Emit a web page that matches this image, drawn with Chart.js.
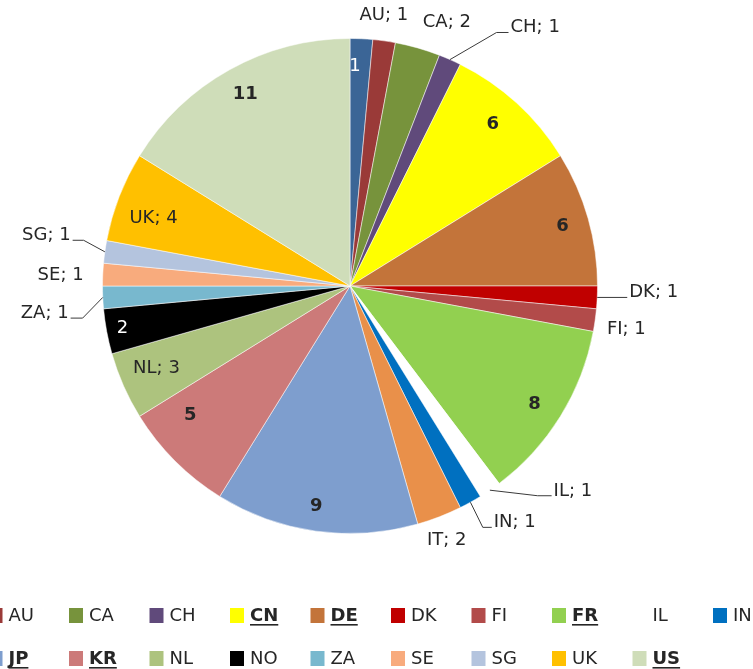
<!DOCTYPE html>
<html>
<head>
<meta charset="utf-8">
<title>Countries</title>
<script src="https://cdn.jsdelivr.net/npm/chart.js@4.4.1/dist/chart.umd.min.js"></script>
<style>
  html, body { margin: 0; padding: 0; background: #fff; overflow: hidden; }
  canvas { display: block; }
</style>
</head>
<body>
<canvas id="country-pie" width="753" height="669"></canvas>
<script>
// first slice has no name in the legend
const countries = ["", "AU", "CA", "CH", "CN", "DE", "DK", "FI", "FR", "IL", "IN",
  "IT", "JP", "KR", "NL", "NO", "ZA", "SE", "SG", "UK", "US"];
const counts = [1, 1, 2, 1, 6, 6, 1, 1, 8, 1, 1, 2, 9, 5, 3, 2, 1, 1, 1, 4, 11];
const sliceColors = ["#3b6596", "#9a3a38", "#77933c", "#604a7b", "#ffff00", "#c3743a",
  "#c00000", "#b24b4a", "#92d050", "#ffffff", "#0070c0", "#e9904a", "#7e9ece",
  "#cc7a79", "#adc37e", "#000000", "#78b8ce", "#f8ab7d", "#b4c4de", "#ffc000", "#cfddb9"];

const boldCountries = ["CN", "DE", "FR", "JP", "KR", "US"];
const valueOnly = ["", "CN", "DE", "FR", "JP", "KR", "NO", "US"];
const whiteLabels = ["", "NO"];

// r = share of radius, da = degrees clockwise from the slice middle
const labelPlacement = {
  "": { r: 0.887, da: -1.35 },
  AU: { r: 1.101, da: -0.8 },
  CA: { r: 1.134, da: 4.3 },
  CH: { leader: { r: 1.183, da: 6.2, arm: 12 } },
  CN: { r: 0.871, da: -0.9 },
  DE: { r: 0.892, da: 0.15 },
  DK: { leader: { r: 1.0, da: 0, arm: 30 } },
  FI: { r: 1.13, da: 0.9 },
  FR: { r: 0.887, da: 1 },
  IL: { leader: { r: 1.137, da: -7.4, arm: 14 } },
  IN: { leader: { r: 1.113, da: 0.3, arm: 9 } },
  IT: { r: 1.1, da: 0.35 },
  JP: { r: 0.9, da: 0.8 },
  KR: { r: 0.829, da: 6.1 },
  NL: { r: 0.849, da: 0.9 },
  NO: { r: 0.935, da: 0.15 },
  ZA: { leader: { r: 1.088, da: -4.2, arm: -12 } },
  SE: { r: 1.17, da: -0.5 },
  SG: { leader: { r: 1.092, da: 1.8, arm: -11 } },
  UK: { r: 0.84, da: -2.1 },
  US: { r: 0.882, da: 0.45 },
};

const legendLayout = { left: -11.5, colWidth: 80.5, columns: 11, rowTop: 615, rowGap: 43, box: 14 };
const FONT = '"DejaVu Sans", sans-serif';

function polar(arc, r, deg) {
  const a = (arc.startAngle + arc.endAngle) / 2 + deg * Math.PI / 180;
  return {
    x: arc.x + Math.cos(a) * arc.outerRadius * r,
    y: arc.y + Math.sin(a) * arc.outerRadius * r,
  };
}

const sliceLabels = {
  id: "sliceLabels",
  afterDatasetsDraw(chart) {
    const ctx = chart.ctx;
    const meta = chart.getDatasetMeta(0);
    ctx.save();
    meta.data.forEach((el, i) => {
      const name = countries[i];
      const place = labelPlacement[name];
      if (!place) return;
      const arc = el.getProps(["x", "y", "startAngle", "endAngle", "outerRadius"], true);
      const bold = boldCountries.includes(name);
      const text = valueOnly.includes(name) ? String(counts[i]) : name + "; " + counts[i];
      ctx.font = (bold ? "bold " : "") + "18px " + FONT;
      ctx.fillStyle = whiteLabels.includes(name) ? "#ffffff" : "#262626";

      if (place.leader) {
        const start = polar(arc, 1, 0);
        const elbow = polar(arc, place.leader.r, place.leader.da);
        const endX = elbow.x + place.leader.arm;
        ctx.strokeStyle = "#3a3a3a";
        ctx.lineWidth = 1;
        ctx.beginPath();
        ctx.moveTo(start.x, start.y);
        ctx.lineTo(elbow.x, elbow.y);
        ctx.lineTo(endX, elbow.y);
        ctx.stroke();
        const right = place.leader.arm > 0;
        ctx.textAlign = right ? "left" : "right";
        ctx.textBaseline = "alphabetic";
        ctx.fillText(text, endX + (right ? 2 : -2), elbow.y);
      } else {
        const p = polar(arc, place.r, place.da);
        ctx.textAlign = "center";
        ctx.textBaseline = "middle";
        ctx.fillText(text, p.x, p.y);
      }
    });
    ctx.restore();
  },
};

const gridLegend = {
  id: "gridLegend",
  afterDraw(chart) {
    const ctx = chart.ctx;
    const L = legendLayout;
    ctx.save();
    countries.forEach((name, i) => {
      if (name === "") return;
      const n = i - 1;
      const col = n % L.columns;
      const row = Math.floor(n / L.columns);
      const x = L.left + col * L.colWidth;
      const y = L.rowTop + row * L.rowGap;
      ctx.fillStyle = sliceColors[i];
      ctx.fillRect(x, y - L.box / 2, L.box, L.box + 1);
      const bold = boldCountries.includes(name);
      ctx.font = (bold ? "bold " : "") + "18px " + FONT;
      ctx.fillStyle = "#262626";
      ctx.textAlign = "left";
      ctx.textBaseline = "middle";
      const tx = x + L.box + 6;
      ctx.fillText(name, tx, y + 1);
      if (bold) {
        const w = ctx.measureText(name).width;
        ctx.fillRect(tx, y + 9, w, 1.6);
      }
    });
    ctx.restore();
  },
};

new Chart(document.getElementById("country-pie"), {
  type: "pie",
  data: {
    labels: countries,
    datasets: [{
      data: counts,
      backgroundColor: sliceColors,
      borderColor: "rgba(255,255,255,0.5)",
      borderWidth: 1,
    }],
  },
  options: {
    responsive: false,
    animation: false,
    layout: { padding: { left: 102, right: 155, top: 38, bottom: 135 } },
    plugins: {
      legend: { display: false },
      tooltip: { enabled: false },
    },
  },
  plugins: [sliceLabels, gridLegend],
});
</script>
</body>
</html>
